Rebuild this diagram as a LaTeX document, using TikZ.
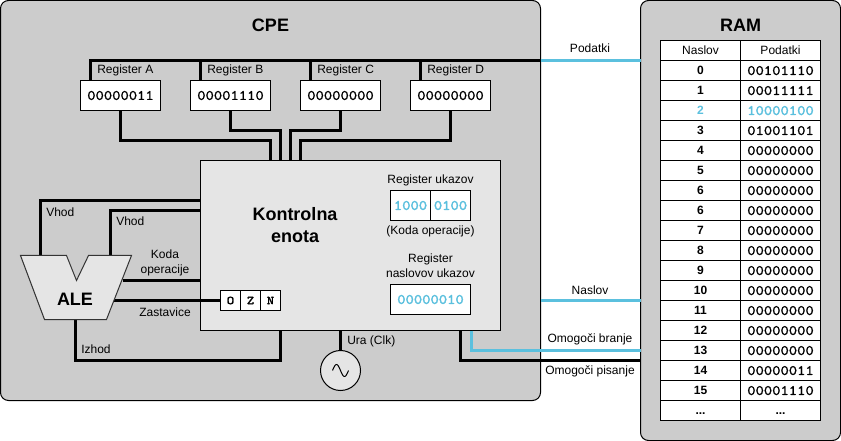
\documentclass[tikz,border=0pt]{standalone}
\usepackage{fontspec}
\setmainfont{Liberation Sans}
\newfontfamily\regfont[FakeBold=1.2,FakeStretch=1.1]{Latin Modern Mono}
\newfontfamily\hotfont[FakeBold=2.2,FakeStretch=1.1]{Latin Modern Mono}
\newfontfamily\bitfont[FakeBold=2.2,FakeStretch=1.15]{Latin Modern Mono}
\usepackage{xcolor}
\usetikzlibrary{positioning,calc,matrix}
\definecolor{hot}{HTML}{5BC0DE}
\tikzset{
  panel/.style={draw=black,fill=black!20,rounded corners=6pt,line width=.75pt,inner sep=0pt,outer sep=0pt},
  ttl/.style={font=\bfseries\fontsize{13.5}{16}\selectfont,inner sep=0pt},
  lab/.style={font=\fontsize{9}{11.25}\selectfont,align=center,inner sep=0pt},
  reg/.style={draw=black,fill=white,line width=.75pt,inner sep=0pt,outer sep=0pt,minimum width=60pt,minimum height=22.5pt,font=\regfont\fontsize{10.8}{13}\selectfont},
  hotreg/.style={reg,text=hot,font=\hotfont\fontsize{10.8}{13}\selectfont},
  bit/.style={reg,minimum width=15pt,minimum height=15pt,font=\bitfont\fontsize{9}{11}\selectfont},
  cell/.style={draw=black,fill=white,line width=.75pt,inner sep=0pt,outer sep=0pt,minimum width=60pt,minimum height=15pt,anchor=center},
  bus/.style={line width=2.25pt,black},
  hotbus/.style={line width=2.25pt,hot},
}
\begin{document}
\begin{tikzpicture}[x=.75pt,y=-.75pt,node distance=22.5pt]
  \useasboundingbox (0,0) rectangle (841,441);
  \node[panel,minimum width=405pt,minimum height=300pt] (cpe) at (270.5,200.5) {};
  \node[panel,minimum width=150pt,minimum height=330pt] (ram) at (740.5,220.5) {};
  \node[ttl] (cpet) at (270.5,25) {CPE};
  \node[ttl] (ramt) at (740.5,25) {RAM};
  % registers
  \node[reg] (rega) at (120.5,95.5) {00000011};
  \node[reg,right=of rega] (regb) {00001110};
  \node[reg,right=of regb] (regc) {00000000};
  \node[reg,right=of regc] (regd) {00000000};
  \node[lab,anchor=west] (laba) at (97,70) {Register A};
  \node[lab,anchor=west] (labb) at (207,70) {Register B};
  \node[lab,anchor=west] (labc) at (317,70) {Register C};
  \node[lab,anchor=west] (labd) at (427,70) {Register D};
  % control unit
  \node[draw=black,fill=black!10,line width=.75pt,minimum width=225pt,minimum height=127.5pt,inner sep=0pt,outer sep=0pt] (ctrl) at (350.5,245.5) {};
  \node[ttl,align=center,font=\bfseries\fontsize{13.5}{16.5}\selectfont] (ctrlt) at (295,225.5) {Kontrolna\\enota};
  \node[lab] (irt) at (430.5,180.5) {Register ukazov};
  \node[hotreg,minimum width=30pt] (irh) at (410.5,205.5) {1000};
  \node[hotreg,minimum width=30pt,right=0pt of irh] (irl) {0100};
  \node[lab] (irk) at (430.5,231) {(Koda operacije)};
  \node[lab] (pct) at (430.5,266) {Register\\naslovov ukazov};
  \node[hotreg] (pc) at (430.5,299.5) {00000010};
  \node[bit] (flo) at (230.5,300.5) {O};
  \node[bit,right=0pt of flo] (flz) {Z};
  \node[bit,right=0pt of flz] (fln) {N};
  \node[draw=black,fill=black!10,circle,line width=.75pt,minimum size=30pt,inner sep=0pt,outer sep=0pt] (clk) at (340.5,370.5) {};
  \draw[line width=.75pt,shift={(clk.center)}] plot[domain=-8:8,samples=40,smooth] (\x,{6*sin(\x*22.5)});
  % ram table
  \matrix[matrix of nodes,nodes={cell,font=\regfont\fontsize{10.8}{13}\selectfont,text height=6.7pt,text depth=0pt},
    row sep=-.75pt,column sep=-.75pt,inner sep=0pt,outer sep=0pt,
    column 1/.style={nodes={font=\bfseries\fontsize{9}{11}\selectfont,text height=6.6pt}},
    row 1/.style={nodes={font=\fontsize{9}{11}\selectfont,text height=6.6pt}},
    row 4/.style={nodes={text=hot}}] (mem) at (740.5,230.5) {
    Naslov & Podatki \\
    0 & 00101110 \\
    1 & 00011111 \\
    2 & |[font=\hotfont\fontsize{10.8}{13}\selectfont]|10000100 \\
    3 & 01001101 \\
    4 & 00000000 \\
    5 & 00000000 \\
    6 & 00000000 \\
    6 & 00000000 \\
    7 & 00000000 \\
    8 & 00000000 \\
    9 & 00000000 \\
    10 & 00000000 \\
    11 & 00000000 \\
    12 & 00000000 \\
    13 & 00000000 \\
    14 & 00000011 \\
    15 & 00001110 \\
    ... & |[font=\bfseries\fontsize{9}{11}\selectfont]|... \\
  };
  % connectors
  \coordinate (ale1) at (40.5,255.5);
  \coordinate (ale2) at (110.5,255.5);
  \coordinate (ale3) at (122.5,280.5);
  \coordinate (ale4) at (114,300.5);
  \coordinate (ale5) at (75.5,319.5);
  \draw[bus] ($(rega.north west)+(10,0)$) |- (cpe.east |- 0,60.5);
  \draw[bus] ($(regb.north west)+(10,0)$) -- ++(0,-20);
  \draw[bus] ($(regc.north west)+(10,0)$) -- ++(0,-20);
  \draw[bus] ($(regd.north west)+(10,0)$) -- ++(0,-20);
  \draw[hotbus] (cpe.east |- 0,60.5) -- (ram.west |- 0,60.5);
  \draw[bus] (rega.south) |- ($(ctrl.north west)+(70,-20)$) -- ++(0,20);
  \draw[bus] (regb.south) |- ($(ctrl.north west)+(80,-30)$) -- ++(0,30);
  \draw[bus] (regc.south) |- ($(ctrl.north west)+(90,-30)$) -- ++(0,30);
  \draw[bus] (regd.south) |- ($(ctrl.north west)+(100,-20)$) -- ++(0,20);
  \draw[bus] (ale1) |- (ctrl.west |- 0,200.5);
  \draw[bus] (ale2) |- (ctrl.west |- 0,210.5);
  \draw[bus] (ale3) -- (ctrl.west |- ale3);
  \draw[bus] (ale4) -- (flo.west);
  \draw[bus] (ale5) |- ($(fln.east |- ctrl.south)+(0,30)$) -- (fln.east |- ctrl.south);
  \draw[bus] (ctrl.south -| clk) -- (clk.north);
  \draw[hotbus] (cpe.east |- 0,300.5) -- (ram.west |- 0,300.5);
  \draw[hotbus] (471,330.5) |- (ram.west |- 0,350.5);
  \draw[bus] (460.5,330.5) |- (ram.west |- 0,360.5);
  % ale
  \draw[draw=black!80,fill=black!10,line width=.75pt] (20.5,255.5) -- (66.5,255.5) -- (76.5,280.5) -- (88.5,255.5) -- (131.5,255.5) -- (106.5,319.5) -- (44.5,319.5) -- cycle;
  \node[ttl] (ale) at (75,299) {ALE};
  % labels
  \node[lab,anchor=west] (lv1) at (46,212) {Vhod};
  \node[lab,anchor=west] (lv2) at (116,221) {Vhod};
  \node[lab] (lk) at (165,262.5) {Koda\\operacije};
  \node[lab] (lz) at (165,312) {Zastavice};
  \node[lab,anchor=west] (li) at (81,349) {Izhod};
  \node[lab,anchor=west] (lc) at (347,341) {Ura (Clk)};
  \node[lab] (lp) at (590,48) {Podatki};
  \node[lab] (ln) at (590,290) {Naslov};
  \node[lab] (lb) at (590,339) {Omogoči branje};
  \node[lab] (lw) at (590,371) {Omogoči pisanje};
\end{tikzpicture}
\end{document}
